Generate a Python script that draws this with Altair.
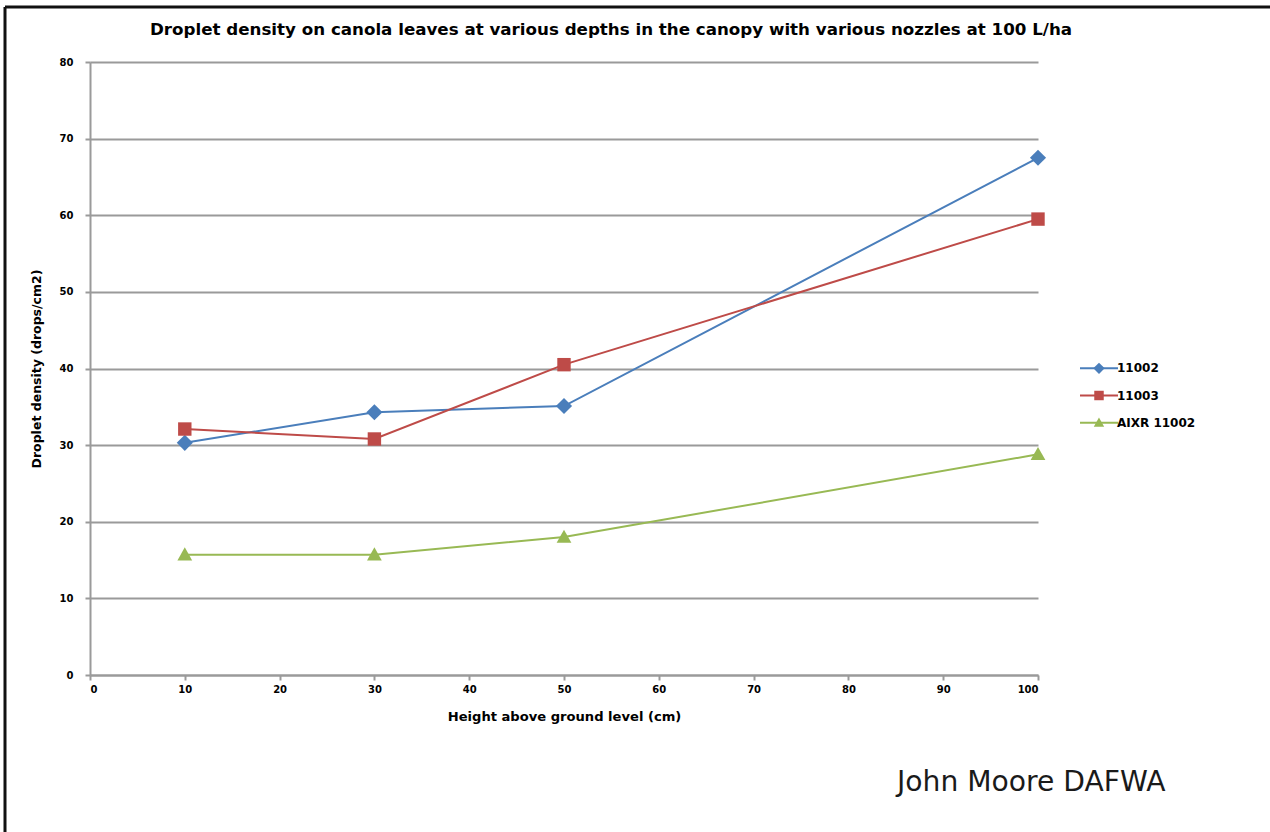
import altair as alt
import pandas as pd

# Height above ground (cm) at which leaves were sampled
heights = [10, 30, 50, 100]

# Droplet density (drops/cm2) per nozzle
nozzle_11002 = [30.3, 34.3, 35.1, 67.5]
nozzle_11003 = [32.1, 30.8, 40.5, 59.5]
nozzle_aixr = [15.7, 15.7, 18.0, 28.8]

series_names = ["11002", "11003", "AIXR 11002"]
series_colors = ["#4a7ebb", "#be4b48", "#98b954"]

# marker shapes (unit SVG paths)
plot_shapes = [
    "M0,-1.2L1.2,0L0,1.2L-1.2,0Z",
    "M-1,-1H1V1H-1Z",
    "M0,-1.1L1.1,0.85H-1.1Z",
]

rows = []
for name, values in zip(series_names, [nozzle_11002, nozzle_11003, nozzle_aixr]):
    for h, v in zip(heights, values):
        rows.append({"height": h, "density": v, "nozzle": name})
df = pd.DataFrame(rows)

legend_df = pd.DataFrame({"nozzle": series_names})

FONT = "DejaVu Sans"
GRID = "#9a9a9a"
colour_scale = alt.Scale(domain=series_names, range=series_colors)
shape_scale = alt.Scale(domain=series_names, range=plot_shapes)

x_enc = alt.X(
    "height:Q",
    title="Height above ground level (cm)",
    scale=alt.Scale(domain=[0, 100], nice=False),
    axis=alt.Axis(values=list(range(0, 101, 10)), grid=False, titleFontSize=13.1),
)
y_enc = alt.Y(
    "density:Q",
    title="Droplet density (drops/cm2)",
    scale=alt.Scale(domain=[0, 80], nice=False),
    axis=alt.Axis(values=list(range(0, 81, 10)), grid=True, titleFontSize=12.5),
)

base = alt.Chart(df).encode(x=x_enc, y=y_enc)

lines = base.mark_line(strokeWidth=2).encode(
    color=alt.Color("nozzle:N", scale=colour_scale, legend=None),
    detail="nozzle:N",
)
markers = base.mark_point(filled=True, opacity=1, size=180).encode(
    color=alt.Color("nozzle:N", scale=colour_scale, legend=None),
    shape=alt.Shape("nozzle:N", scale=shape_scale, legend=None),
)
plot = alt.layer(lines, markers)

# key at the right of the plot: line sample, marker, label
key_y = alt.Y(
    "nozzle:N",
    scale=alt.Scale(domain=series_names, range=[286, 381], padding=0.5),
    axis=None,
)
key_base = alt.Chart(legend_df).encode(y=key_y)
key_line = key_base.mark_rule(strokeWidth=2).encode(
    x=alt.value(990), x2=alt.value(1028),
    color=alt.Color("nozzle:N", scale=colour_scale, legend=None),
)
key_marker = key_base.mark_point(filled=True, opacity=1, size=90).encode(
    x=alt.value(1009),
    color=alt.Color("nozzle:N", scale=colour_scale, legend=None),
    shape=alt.Shape("nozzle:N", scale=shape_scale, legend=None),
)
key_label = key_base.mark_text(
    font=FONT, fontSize=12, fontWeight="bold", align="left", baseline="middle", color="#000000"
).encode(x=alt.value(1027), text="nozzle:N")
key = alt.layer(key_line, key_marker, key_label)

one = pd.DataFrame({"a": [0]})

heading = alt.Chart(pd.DataFrame({
    "t": ["Droplet density on canola leaves at various depths in the canopy with various nozzles at 100 L/ha"]
})).mark_text(
    font=FONT, fontSize=16.7, fontWeight="bold", align="center", baseline="middle", color="#000000"
).encode(text="t:N", x=alt.value(521), y=alt.value(-32))

credit = alt.Chart(pd.DataFrame({"t": ["John Moore DAFWA"]})).mark_text(
    font=FONT, fontSize=28.2, align="left", baseline="middle", color="#1a1a1a"
).encode(text="t:N", x=alt.value(807), y=alt.value(721))

frame_top = alt.Chart(one).mark_rule(color="#111111", strokeWidth=3).encode(
    x=alt.value(-85), x2=alt.value(1180), y=alt.value(-55)
)
frame_left = alt.Chart(one).mark_rule(color="#111111", strokeWidth=3).encode(
    x=alt.value(-85), y=alt.value(-55), y2=alt.value(770)
)
decor = alt.layer(heading, credit, frame_top, frame_left)

chart = (
    alt.layer(plot, key, decor)
    .resolve_scale(y="independent")
    .properties(
        width=948,
        height=613,
        autosize=alt.AutoSizeParams(type="none"),
        padding={"left": 90, "top": 62, "right": 232, "bottom": 157},
        background="white",
    )
    .configure_view(stroke=None)
    .configure_axis(
        domainColor=GRID, domainWidth=2, tickColor=GRID, tickWidth=2, tickSize=5,
        gridColor=GRID, gridWidth=2,
        labelFont=FONT, labelFontSize=10, labelFontWeight="bold", labelColor="#000000",
        titleFont=FONT, titleFontWeight="bold", titleColor="#000000",
    )
    .configure_axisX(labelPadding=4, titlePadding=16)
    .configure_axisY(labelPadding=12, titlePadding=16)
)

chart.save("out.html", embed_options={"renderer": "svg", "actions": False})
